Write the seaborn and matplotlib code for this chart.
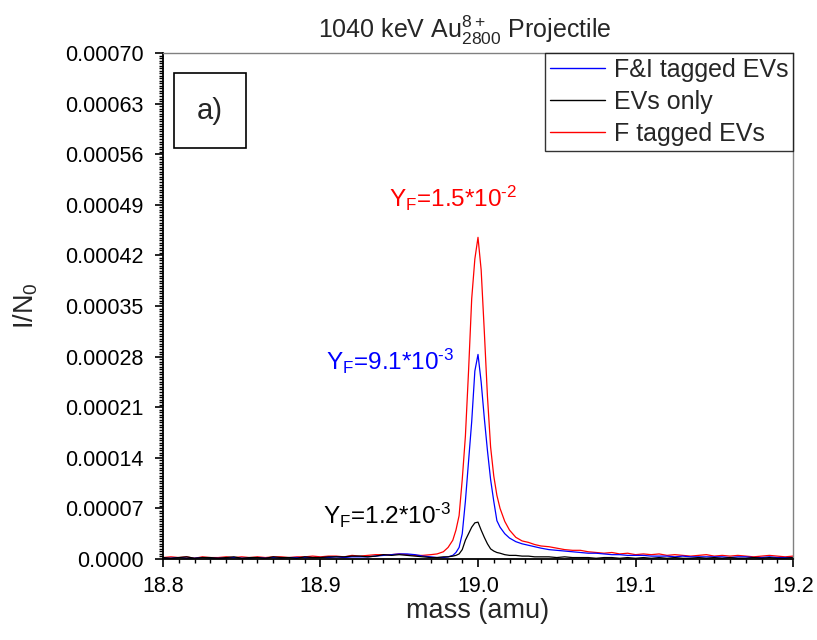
import numpy as np
import pandas as pd
import matplotlib
matplotlib.use("Agg")
import matplotlib.pyplot as plt
import seaborn as sns
from matplotlib.ticker import MultipleLocator, AutoMinorLocator, FixedLocator, FixedFormatter
from matplotlib.patches import Rectangle
from matplotlib.lines import Line2D

# ---------------- data (intensities in units of 1e-5) ----------------
mass = [
    18.800, 18.805, 18.810, 18.815, 18.820, 18.825, 18.830, 18.835, 18.840, 18.845,
    18.850, 18.855, 18.860, 18.865, 18.870, 18.875, 18.880, 18.885, 18.890, 18.895,
    18.900, 18.905, 18.910, 18.915, 18.920, 18.925, 18.930, 18.935, 18.940, 18.945,
    18.950, 18.955, 18.960, 18.965, 18.970,
    18.974, 18.978, 18.981, 18.984, 18.986, 18.988, 18.990, 18.992, 18.994, 18.996,
    18.998, 19.000, 19.002, 19.004, 19.006, 19.008, 19.010, 19.012, 19.014, 19.017,
    19.020, 19.024, 19.028,
    19.032, 19.036, 19.040,
    19.045, 19.050, 19.055, 19.060, 19.065, 19.070, 19.075, 19.080, 19.085, 19.090,
    19.095, 19.100,
    19.105, 19.110, 19.115, 19.120, 19.125, 19.130, 19.135, 19.140, 19.145, 19.150,
    19.155, 19.160, 19.165, 19.170, 19.175, 19.180, 19.185, 19.190, 19.195, 19.200,
]

f_tagged = [
    0.2, 0.3, 0.2, 0.3, 0.1, 0.3, 0.2, 0.2, 0.3, 0.2,
    0.3, 0.2, 0.3, 0.2, 0.3, 0.3, 0.2, 0.3, 0.3, 0.4,
    0.3, 0.4, 0.4, 0.3, 0.5, 0.4, 0.5, 0.6, 0.6, 0.6,
    0.7, 0.6, 0.5, 0.5, 0.6,
    0.7, 1.0, 1.6, 2.6, 4.0, 6.0, 11.0, 17.0, 26.0, 36.0,
    41.5, 44.5, 40.0, 31.5, 22.5, 15.5, 11.5, 8.8, 7.0, 5.2,
    4.0, 3.0, 2.5,
    2.3, 2.0, 1.8,
    1.7, 1.5, 1.3, 1.2, 1.2, 1.0, 0.9, 0.8, 0.9, 0.7,
    0.8, 0.6,
    0.7, 0.6, 0.7, 0.5, 0.6, 0.5, 0.4, 0.5, 0.6, 0.4,
    0.5, 0.4, 0.5, 0.4, 0.3, 0.4, 0.5, 0.4, 0.3, 0.4,
]

fi_tagged = [
    0.1, 0.1, 0.2, 0.1, 0.1, 0.2, 0.1, 0.1, 0.1, 0.2,
    0.1, 0.1, 0.2, 0.1, 0.2, 0.1, 0.2, 0.2, 0.2, 0.2,
    0.2, 0.2, 0.3, 0.2, 0.3, 0.3, 0.3, 0.4, 0.5, 0.6,
    0.7, 0.7, 0.6, 0.4, 0.3,
    0.2, 0.2, 0.3, 0.5, 0.9, 1.6, 3.5, 8.0, 13.5, 19.0,
    26.0, 28.3, 24.5, 19.5, 15.0, 11.0, 8.0, 5.3, 4.4, 3.5,
    2.9, 2.4, 2.1,
    1.9, 1.7, 1.5,
    1.3, 1.2, 1.1, 1.0, 0.9, 0.8, 0.8, 0.7, 0.6, 0.6,
    0.5, 0.5,
    0.5, 0.4, 0.4, 0.4, 0.3, 0.4, 0.3, 0.3, 0.3, 0.3,
    0.3, 0.2, 0.3, 0.3, 0.2, 0.2, 0.3, 0.2, 0.2, 0.2,
]

evs_only = [
    0.2, 0.1, 0.2, 0.3, 0.1, 0.2, 0.2, 0.1, 0.2, 0.3,
    0.1, 0.2, 0.2, 0.1, 0.3, 0.2, 0.2, 0.1, 0.3, 0.2,
    0.2, 0.3, 0.3, 0.3, 0.4, 0.4, 0.3, 0.4, 0.6, 0.5,
    0.6, 0.5, 0.4, 0.3, 0.2,
    0.2, 0.3, 0.3, 0.4, 0.5, 0.7, 1.3, 2.6, 3.5, 4.4,
    5.0, 5.1, 4.0, 3.0, 2.1, 1.4, 1.1, 0.9, 0.8, 0.6,
    0.5, 0.5, 0.4,
    0.4, 0.3, 0.3,
    0.3, 0.2, 0.3, 0.2, 0.2, 0.2, 0.1, 0.2, 0.2, 0.1,
    0.2, 0.1,
    0.2, 0.1, 0.2, 0.1, 0.2, 0.1, 0.1, 0.2, 0.1, 0.2,
    0.1, 0.2, 0.1, 0.1, 0.2, 0.1, 0.2, 0.1, 0.1, 0.2,
]

series_names = ["F tagged EVs", "F&I tagged EVs", "EVs only"]
legend_order = ["F&I tagged EVs", "EVs only", "F tagged EVs"]
colors = {"F tagged EVs": "#ff0000", "F&I tagged EVs": "#0000ff", "EVs only": "#000000"}

yticks = [0.0, 0.00007, 0.00014, 0.00021, 0.00028, 0.00035, 0.00042,
          0.00049, 0.00056, 0.00063, 0.00070]
ytick_labels = ["0.0000", "0.00007", "0.00014", "0.00021", "0.00028", "0.00035",
                "0.00042", "0.00049", "0.00056", "0.00063", "0.00070"]
xticks = [18.8, 18.9, 19.0, 19.1, 19.2]
xtick_labels = ["18.8", "18.9", "19.0", "19.1", "19.2"]

# ---------------- build long table ----------------
frames = []
for name, vals in zip(series_names, [f_tagged, fi_tagged, evs_only]):
    frames.append(pd.DataFrame({"mass": mass,
                                "I": np.array(vals) * 1e-5,
                                "series": name}))
df = pd.concat(frames, ignore_index=True)

# ---------------- style ----------------
sns.set_style("ticks")
plt.rcParams["font.family"] = ["Liberation Sans", "DejaVu Sans"]
plt.rcParams["mathtext.fontset"] = "custom"
plt.rcParams["mathtext.rm"] = "Liberation Sans"
plt.rcParams["mathtext.it"] = "Liberation Sans"
plt.rcParams["mathtext.bf"] = "Liberation Sans:bold"

fig = plt.figure(figsize=(8.17, 6.4), dpi=100)
ax = fig.add_axes([163 / 817, 1 - 559 / 640, 630 / 817, 506 / 640])

sns.lineplot(data=df, x="mass", y="I", hue="series", hue_order=series_names,
             palette=colors, linewidth=0.9, ax=ax, legend=False, sort=False)

ax.set_xlim(18.8, 19.2)
ax.set_ylim(0, 0.0007)

ax.xaxis.set_major_locator(FixedLocator(xticks))
ax.xaxis.set_major_formatter(FixedFormatter(xtick_labels))
ax.xaxis.set_minor_locator(MultipleLocator(0.01))
ax.yaxis.set_major_locator(FixedLocator(yticks))
ax.yaxis.set_major_formatter(FixedFormatter(ytick_labels))
ax.yaxis.set_minor_locator(AutoMinorLocator(20))

ax.tick_params(axis="both", which="major", direction="out", length=6, width=1.2,
               labelsize=15.5, colors="black")
ax.tick_params(axis="both", which="minor", direction="out", length=3, width=1.0,
               colors="black")
ax.tick_params(axis="x", which="major", pad=6)
ax.tick_params(axis="y", which="major", pad=8)

for s in ["left", "bottom"]:
    ax.spines[s].set_color("black")
    ax.spines[s].set_linewidth(1.3)
for s in ["top", "right"]:
    ax.spines[s].set_visible(True)
    ax.spines[s].set_color("#808080")
    ax.spines[s].set_linewidth(1.0)

ax.set_xlabel("mass (amu)", fontsize=19.5, labelpad=1)
ax.set_ylabel("I/N$_0$", fontsize=19.5, labelpad=18)
ax.set_title("1040 keV Au$_{2800}^{8+}$ Projectile", fontsize=18, pad=11, x=0.479)

# legend
handles = [Line2D([0], [0], color=colors[n], linewidth=1.0) for n in legend_order]
leg = ax.legend(handles, legend_order, loc="upper right", fontsize=18,
                frameon=True, fancybox=False, borderaxespad=0, handlelength=2.2,
                handletextpad=0.35, labelspacing=0.32, borderpad=0.2)
leg.get_frame().set_edgecolor("black")
leg.get_frame().set_linewidth(1.0)

# panel label box
ax.add_patch(Rectangle((0.0175, 0.812), 0.114, 0.148, transform=ax.transAxes,
                       fill=False, edgecolor="black", linewidth=1.2))
ax.text(0.0745, 0.886, "a)", transform=ax.transAxes, fontsize=21,
        ha="center", va="center")

# annotations
ax.text(18.9842, 0.000499, "Y$_{\\mathrm{F}}$=1.5*10$^{\u20102}$", color="#ff0000",
        fontsize=17.5, ha="center", va="center")
ax.text(18.9441, 0.000273, "Y$_{\\mathrm{F}}$=9.1*10$^{\u20103}$", color="#0000ff",
        fontsize=17.5, ha="center", va="center")
ax.text(18.9421, 0.0000604, "Y$_{\\mathrm{F}}$=1.2*10$^{\u20103}$", color="black",
        fontsize=17.5, ha="center", va="center")

fig.savefig("out.png", dpi=100)
